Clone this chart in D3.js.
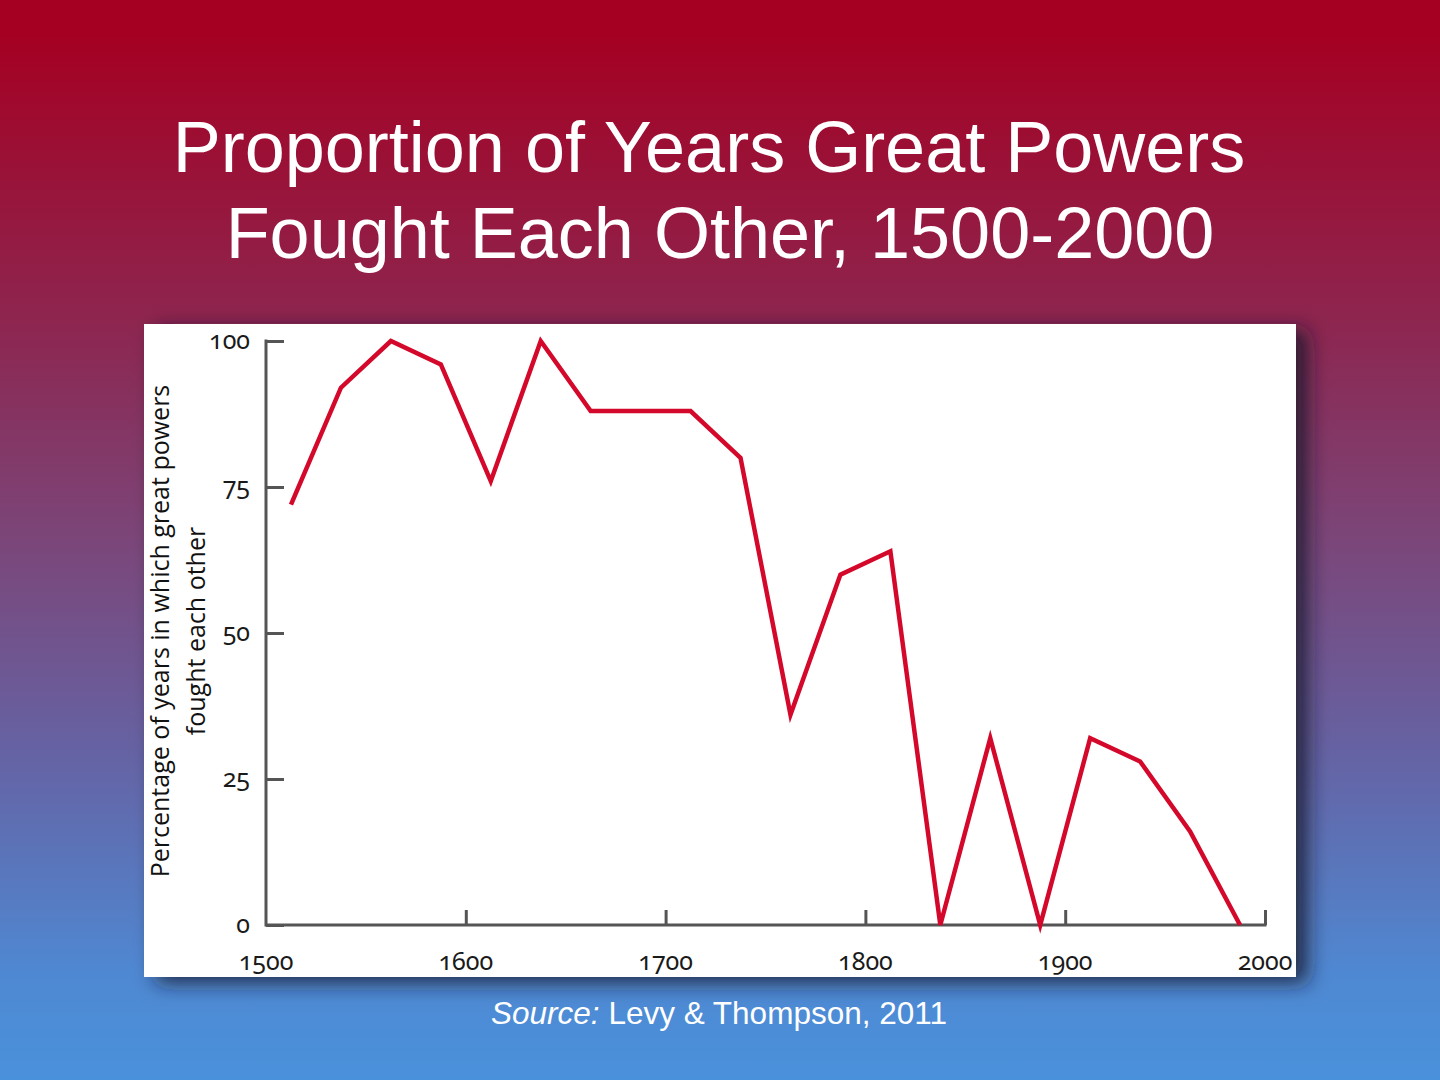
<!DOCTYPE html>
<html>
<head>
<meta charset="utf-8">
<script src="https://cdn.jsdelivr.net/npm/d3@7"></script>
<style>
  html, body { margin: 0; padding: 0; }
  body { width: 1440px; height: 1080px; overflow: hidden; }
</style>
</head>
<body>
<svg id="chart" width="1440" height="1080"></svg>
<script>
// quarter-century midpoints and share of years with great-power war
const years = [1512.5, 1537.5, 1562.5, 1587.5, 1612.5, 1637.5, 1662.5, 1687.5, 1712.5, 1737.5,
               1762.5, 1787.5, 1812.5, 1837.5, 1862.5, 1887.5, 1912.5, 1937.5, 1962.5, 1987.5];
const pct = [72, 92, 100, 96, 76, 100, 88, 88, 88, 80,
             36, 60, 64, 0, 32, 0, 32, 28, 16, 0];
const xTicks = [1500, 1600, 1700, 1800, 1900, 2000];
const yTicks = [0, 25, 50, 75, 100];

const svg = d3.select("#chart");
const defs = svg.append("defs");

// slide background
const grad = defs.append("linearGradient")
    .attr("id", "bg").attr("x1", 0).attr("y1", 0).attr("x2", 0).attr("y2", 1);
grad.append("stop").attr("offset", "0.03").attr("stop-color", "#a50022");
grad.append("stop").attr("offset", "0.3").attr("stop-color", "#8d2650");
grad.append("stop").attr("offset", "0.5").attr("stop-color", "#7b4679");
grad.append("stop").attr("offset", "0.7").attr("stop-color", "#6563a4");
grad.append("stop").attr("offset", "0.9").attr("stop-color", "#4f88d2");
grad.append("stop").attr("offset", "1").attr("stop-color", "#4a91db");
svg.append("rect").attr("width", 1440).attr("height", 1080).attr("fill", "url(#bg)");

const shadow = defs.append("filter").attr("id", "shadow")
    .attr("x", "-10%").attr("y", "-10%").attr("width", "130%").attr("height", "130%");
shadow.append("feDropShadow")
    .attr("dx", 12).attr("dy", 6).attr("stdDeviation", 10)
    .attr("flood-color", "#1a1a2a").attr("flood-opacity", 0.8);

// title
const title = svg.append("text")
    .attr("fill", "#fff")
    .attr("font-family", "'Liberation Sans', Arial, sans-serif")
    .attr("font-size", 72);
title.append("tspan").attr("x", 709).attr("y", 172).attr("text-anchor", "middle")
    .text("Proportion of Years Great Powers");
title.append("tspan").attr("x", 720).attr("y", 258).attr("text-anchor", "middle")
    .text("Fought Each Other, 1500-2000");

// white chart panel
svg.append("rect")
    .attr("x", 144).attr("y", 324).attr("width", 1152).attr("height", 653)
    .attr("fill", "#fff").attr("filter", "url(#shadow)");

const x = d3.scaleLinear().domain([1500, 2000]).range([266, 1265]);
const y = d3.scaleLinear().domain([0, 100]).range([925, 341]);

const tickFont = "'Noto Sans', 'Open Sans', sans-serif";
const axisColor = "#555";

// y axis
const yAxis = svg.append("g")
    .attr("transform", `translate(${x(1500)},0)`)
    .call(d3.axisRight(y).tickValues(yTicks).tickSize(18).tickFormat(""));
yAxis.select(".domain").remove();
yAxis.selectAll(".tick line").attr("stroke", axisColor).attr("stroke-width", 3);

svg.selectAll(".ylab")
    .data(yTicks)
    .join("text")
    .attr("class", "ylab")
    .attr("x", 250)
    .attr("y", d => y(d) + 8)
    .attr("text-anchor", "end")
    .attr("font-family", tickFont)
    .attr("font-size", 25)
    .style("font-variant-numeric", "oldstyle-nums")
    .attr("fill", "#1a1a1a")
    .text(d => d);

// x axis
const xAxis = svg.append("g")
    .attr("transform", `translate(0,${y(0)})`)
    .call(d3.axisTop(x).tickValues(xTicks.slice(1)).tickSize(15).tickFormat(""));
xAxis.select(".domain").remove();
xAxis.selectAll(".tick line").attr("stroke", axisColor).attr("stroke-width", 3);

svg.append("path")
    .attr("d", `M${x(1500)},${y(100)}V${y(0)}H${x(2000)}`)
    .attr("fill", "none").attr("stroke", axisColor).attr("stroke-width", 3)
    .attr("stroke-linecap", "square");

svg.selectAll(".xlab")
    .data(xTicks)
    .join("text")
    .attr("class", "xlab")
    .attr("x", d => x(d))
    .attr("y", 970)
    .attr("text-anchor", "middle")
    .attr("font-family", tickFont)
    .attr("font-size", 25)
    .style("font-variant-numeric", "oldstyle-nums")
    .attr("fill", "#1a1a1a")
    .text(d => d);

// y axis title
const yTitle = svg.append("text")
    .attr("transform", "translate(0,631) rotate(-90)")
    .attr("text-anchor", "middle")
    .attr("font-family", "'Open Sans', 'Lato', sans-serif")
    .attr("font-size", 25)
    .attr("fill", "#111");
yTitle.append("tspan").attr("x", 0).attr("y", 169).text("Percentage of years in which great powers");
yTitle.append("tspan").attr("x", 0).attr("y", 205).text("fought each other");

// data line
const line = d3.line().x((d, i) => x(years[i])).y(d => y(d));
svg.append("path")
    .datum(pct)
    .attr("d", line)
    .attr("fill", "none")
    .attr("stroke", "#d4082a")
    .attr("stroke-width", 4.5)
    .attr("stroke-linejoin", "miter");

// source note
const src = svg.append("text")
    .attr("x", 719).attr("y", 1024)
    .attr("text-anchor", "middle")
    .attr("font-family", "'Liberation Sans', Arial, sans-serif")
    .attr("font-size", 31.5)
    .attr("fill", "#fff");
src.append("tspan").attr("font-style", "italic").text("Source:");
src.append("tspan").text(" Levy & Thompson, 2011");
</script>
</body>
</html>
